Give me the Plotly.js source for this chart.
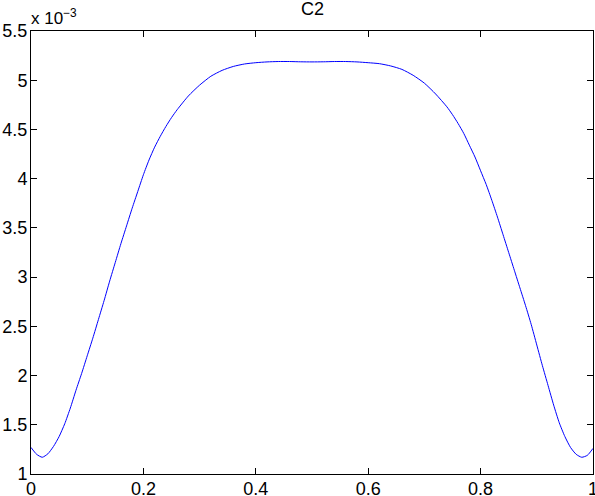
<!DOCTYPE html>
<html>
<head>
<meta charset="utf-8">
<script src="https://cdn.plot.ly/plotly-3.0.1.min.js"></script>
<style>html,body{margin:0;padding:0;background:#fff;}#chart{width:595px;height:496px;}</style>
</head>
<body>
<div id="chart"></div>
<script>
// x positions and C2 values (in units of 1e-3)
var xValues = [0, 0.01, 0.02, 0.03, 0.04, 0.05, 0.06, 0.07, 0.08, 0.09,
  0.10, 0.11, 0.12, 0.13, 0.14, 0.15, 0.16, 0.17, 0.18, 0.19,
  0.20, 0.21, 0.22, 0.23, 0.24, 0.25, 0.26, 0.28, 0.30, 0.32, 0.34, 0.36, 0.38,
  0.40, 0.42, 0.44, 0.46, 0.48, 0.50,
  0.52, 0.54, 0.56, 0.58, 0.60, 0.62, 0.64, 0.66, 0.68, 0.70,
  0.72, 0.74, 0.75, 0.76, 0.77, 0.78, 0.79, 0.80, 0.81, 0.82, 0.83, 0.84, 0.85,
  0.86, 0.87, 0.88, 0.89, 0.90, 0.91, 0.92, 0.93, 0.94, 0.95,
  0.96, 0.97, 0.98, 0.99, 1.00];
var c2Values = [1.27, 1.20, 1.17, 1.205, 1.28, 1.38, 1.51, 1.67, 1.85, 2.02,
  2.20, 2.38, 2.57, 2.76, 2.96, 3.15, 3.34, 3.52, 3.70, 3.87,
  4.04, 4.19, 4.32, 4.43, 4.53, 4.62, 4.70, 4.84, 4.95, 5.04, 5.10, 5.14, 5.165,
  5.178, 5.186, 5.19, 5.19, 5.187, 5.186,
  5.187, 5.19, 5.19, 5.186, 5.178, 5.168, 5.145, 5.11, 5.05, 4.97,
  4.86, 4.73, 4.65, 4.56, 4.46, 4.34, 4.22, 4.08, 3.94, 3.78, 3.61, 3.43, 3.25,
  3.07, 2.89, 2.71, 2.52, 2.31, 2.10, 1.90, 1.70, 1.52, 1.38,
  1.27, 1.20, 1.17, 1.19, 1.26];
var xTicks = [0, 0.2, 0.4, 0.6, 0.8, 1];
var xTickText = ['0', '0.2', '0.4', '0.6', '0.8', '1'];
var yTicks = [1, 1.5, 2, 2.5, 3, 3.5, 4, 4.5, 5, 5.5];
var yTickText = ['1', '1.5', '2', '2.5', '3', '3.5', '4', '4.5', '5', '5.5'];
var titleText = 'C2';
var scaleText = 'x 10<sup>\u22123</sup>';

var fontFam = 'Liberation Sans, Arial, sans-serif';
var trace = {
  x: xValues, y: c2Values, type: 'scatter', mode: 'lines',
  line: {color: '#0000ff', width: 1, shape: 'spline', smoothing: 0.6},
  hoverinfo: 'none', showlegend: false
};
var axisCommon = {
  showline: true, mirror: 'ticks', linecolor: '#000', linewidth: 1,
  ticks: 'inside', ticklen: 6, tickwidth: 1, tickcolor: '#000',
  showgrid: false, zeroline: false, ticklabeloverflow: 'allow',
  tickfont: {family: fontFam, size: 18, color: '#000'}
};
var layout = {
  width: 595, height: 496,
  margin: {l: 31, r: 2, t: 31, b: 22, pad: 0},
  paper_bgcolor: '#fff', plot_bgcolor: '#fff',
  xaxis: Object.assign({}, axisCommon, {range: [0, 1], tickvals: xTicks, ticktext: xTickText, ticklabelstandoff: -2}),
  yaxis: Object.assign({}, axisCommon, {range: [1, 5.5], tickvals: yTicks, ticktext: yTickText, ticklabelstandoff: -1}),
  annotations: [{
    text: titleText, xref: 'paper', yref: 'paper', x: 0.5, y: 1,
    xanchor: 'center', yanchor: 'middle', showarrow: false, yshift: 22.5,
    font: {family: fontFam, size: 18, color: '#000'}
  }, {
    text: scaleText, xref: 'paper', yref: 'paper', x: 0, y: 1,
    xanchor: 'left', yanchor: 'bottom', showarrow: false, xshift: -2, yshift: 1,
    font: {family: fontFam, size: 17, color: '#000'}
  }]
};
Plotly.newPlot('chart', [trace], layout, {displayModeBar: false, staticPlot: true});
</script>
</body>
</html>
